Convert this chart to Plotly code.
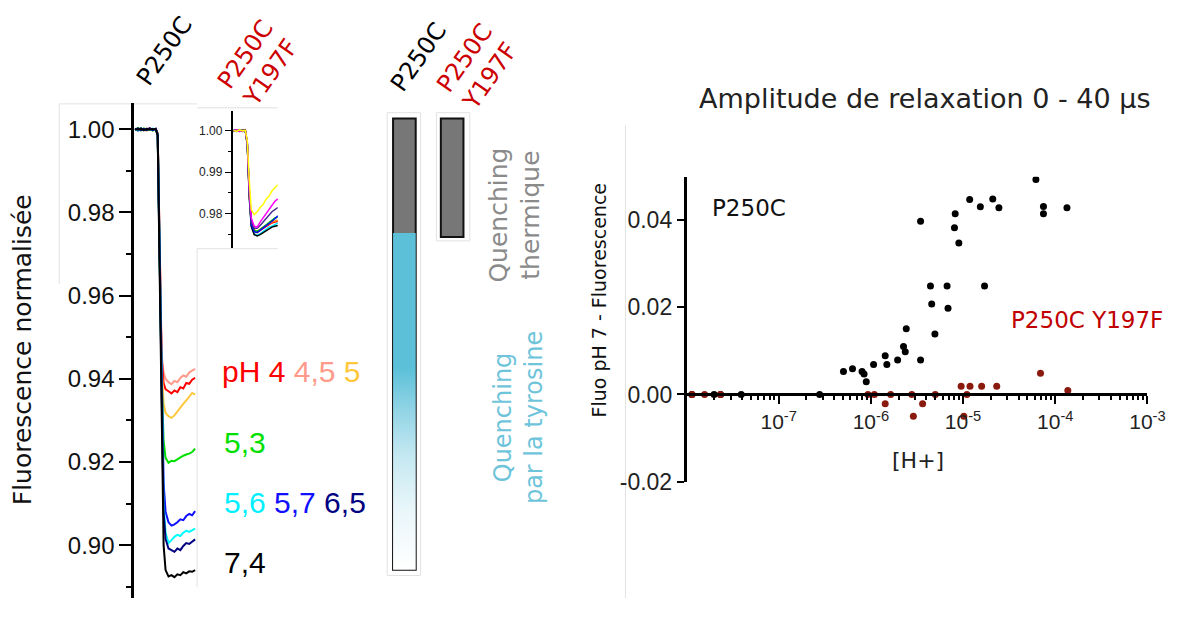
import plotly.graph_objects as go

# figure is 16 px smaller than the window: the page's default 8 px body margin then fills it exactly
W, H = 1184, 603
OFF = 8
def fx(px):
    return (px - OFF) / W
def fy(py):
    return 1 - (py - OFF) / H

ARIAL = "Liberation Sans"
GOTH = "DejaVu Sans"

# ---------------- data: normalised fluorescence traces (P250C) ----------------
t_main = [0, 3, 6, 9, 12, 15, 18, 21, 23, 25, 27, 29, 31, 34, 37, 40, 43, 46, 49, 52, 55, 58, 61]
ph_45 = [1.0002, 0.9998, 1.0001, 0.9997, 1.0002, 0.9999, 1.0001, 1.0000, 0.9990, 0.9750, 0.9460, 0.9415, 0.9400, 0.9392, 0.9387, 0.9395, 0.9392, 0.9402, 0.9408, 0.9405, 0.9415, 0.9420, 0.9424]
ph_4 = [0.9999, 1.0002, 0.9998, 1.0001, 0.9999, 1.0002, 0.9998, 1.0001, 0.9990, 0.9745, 0.9450, 0.9390, 0.9375, 0.9370, 0.9365, 0.9372, 0.9368, 0.9380, 0.9377, 0.9390, 0.9388, 0.9398, 0.9402]
ph_5 = [1.0001, 0.9998, 1.0002, 0.9999, 0.9997, 1.0001, 1.0000, 0.9998, 0.9990, 0.9740, 0.9430, 0.9340, 0.9318, 0.9310, 0.9306, 0.9312, 0.9322, 0.9330, 0.9340, 0.9348, 0.9358, 0.9366, 0.9362]
ph_53 = [0.9998, 1.0003, 0.9997, 1.0002, 0.9998, 1.0001, 0.9997, 1.0001, 0.9988, 0.9720, 0.9400, 0.9250, 0.9210, 0.9198, 0.9203, 0.9202, 0.9207, 0.9210, 0.9215, 0.9218, 0.9220, 0.9224, 0.9232]
ph_57 = [1.0001, 0.9997, 1.0002, 0.9998, 1.0000, 1.0002, 0.9998, 1.0001, 0.9988, 0.9705, 0.9350, 0.9150, 0.9080, 0.9055, 0.9047, 0.9050, 0.9055, 0.9062, 0.9060, 0.9070, 0.9075, 0.9072, 0.9082]
ph_56 = [1.0000, 0.9998, 1.0002, 0.9998, 1.0001, 0.9999, 1.0002, 0.9999, 0.9988, 0.9700, 0.9330, 0.9100, 0.9030, 0.9005, 0.9012, 0.9020, 0.9025, 0.9022, 0.9030, 0.9035, 0.9032, 0.9036, 0.9040]
ph_65 = [0.9999, 1.0002, 0.9998, 1.0001, 0.9998, 1.0002, 0.9999, 1.0001, 0.9987, 0.9700, 0.9320, 0.9080, 0.9015, 0.8992, 0.8988, 0.8984, 0.8992, 0.8988, 0.8998, 0.9005, 0.9003, 0.9008, 0.9014]
ph_74 = [1.0001, 0.9999, 1.0002, 0.9998, 1.0001, 0.9999, 1.0001, 1.0000, 0.9985, 0.9650, 0.9250, 0.9000, 0.8940, 0.8925, 0.8928, 0.8923, 0.8930, 0.8928, 0.8935, 0.8932, 0.8937, 0.8936, 0.8940]
main_traces = [
    ("4,5", ph_45, "#ff9a8a"), ("4", ph_4, "#ff0000"), ("5", ph_5, "#ffc83c"),
    ("5,3", ph_53, "#00e000"), ("5,7", ph_57, "#1010ff"), ("5,6", ph_56, "#00ffff"),
    ("6,5", ph_65, "#000080"), ("7,4", ph_74, "#000000"),
]

# ---------------- data: inset traces (P250C Y197F) ----------------
t_inset = [0, 3, 6, 9, 12, 14, 16, 18, 21, 24, 27, 30, 33, 36, 39, 42, 45]
in_cyan = [1.0001, 0.9998, 1.0002, 0.9999, 0.9998, 0.9965, 0.9840, 0.9770, 0.9752, 0.9748, 0.9752, 0.9758, 0.9762, 0.9768, 0.9770, 0.9775, 0.9778]
in_black = [0.9999, 1.0002, 0.9999, 1.0001, 0.9999, 0.9965, 0.9840, 0.9770, 0.9750, 0.9747, 0.9750, 0.9755, 0.9760, 0.9765, 0.9768, 0.9770, 0.9772]
in_red = [0.9999, 1.0001, 0.9998, 1.0002, 1.0000, 0.9967, 0.9845, 0.9778, 0.9760, 0.9755, 0.9760, 0.9765, 0.9770, 0.9775, 0.9778, 0.9780, 0.9782]
in_orange = [1.0001, 0.9999, 1.0000, 0.9998, 1.0002, 0.9968, 0.9848, 0.9780, 0.9762, 0.9757, 0.9763, 0.9768, 0.9772, 0.9776, 0.9780, 0.9783, 0.9785]
in_green = [0.9998, 1.0001, 0.9999, 1.0002, 0.9999, 0.9968, 0.9850, 0.9780, 0.9760, 0.9758, 0.9762, 0.9768, 0.9772, 0.9778, 0.9785, 0.9790, 0.9792]
in_blue = [1.0002, 0.9999, 1.0001, 0.9998, 1.0000, 0.9970, 0.9850, 0.9775, 0.9757, 0.9755, 0.9760, 0.9765, 0.9770, 0.9776, 0.9782, 0.9788, 0.9795]
in_purple = [1.0000, 0.9998, 1.0002, 0.9999, 1.0001, 0.9970, 0.9855, 0.9780, 0.9765, 0.9765, 0.9772, 0.9780, 0.9790, 0.9798, 0.9805, 0.9810, 0.9815]
in_magenta = [0.9999, 1.0002, 0.9998, 1.0001, 0.9999, 0.9972, 0.9860, 0.9790, 0.9770, 0.9768, 0.9780, 0.9790, 0.9800, 0.9812, 0.9820, 0.9830, 0.9836]
in_yellow = [1.0001, 0.9998, 1.0002, 0.9999, 1.0000, 0.9975, 0.9880, 0.9810, 0.9798, 0.9805, 0.9815, 0.9822, 0.9835, 0.9842, 0.9855, 0.9862, 0.9870]
inset_traces = [
    (in_cyan, "#00e8ff"), (in_black, "#000000"), (in_red, "#ff0000"), (in_orange, "#ff8c00"),
    (in_green, "#00c000"), (in_blue, "#0000ff"), (in_purple, "#4b2a90"),
    (in_magenta, "#ff00ff"), (in_yellow, "#ffff00"),
]

# ---------------- data: quenching bars (fluorescence drop) ----------------
bar_names = ["P250C", "P250C Y197F"]
quench_thermal = [0.0275, 0.0285]
quench_tyrosine = [0.0810, 0.0]

# ---------------- data: relaxation amplitude vs [H+] ----------------
h_p250c = [3.46e-6, 8.22e-6, 8.07e-6, 9.0e-6, 1.18e-5, 1.54e-5, 2.10e-5, 2.45e-5, 6.17e-5, 7.45e-5, 7.45e-5, 1.34e-4,
           4.43e-6, 6.71e-6, 1.71e-5, 4.57e-6, 6.87e-6, 2.42e-6, 4.95e-6, 2.26e-6, 2.36e-6, 1.43e-6, 1.49e-6, 1.95e-6,
           3.46e-6, 1.07e-6, 5.04e-7, 6.32e-7, 8.02e-7, 8.43e-7, 8.91e-7,
           1.14e-8, 1.99e-8, 2.34e-8, 3.92e-8, 2.78e-7]
a_p250c = [0.0398, 0.0415, 0.0383, 0.0348, 0.0448, 0.0431, 0.0449, 0.0429, 0.0494, 0.0432, 0.0415, 0.0429,
           0.0249, 0.0249, 0.0249, 0.0208, 0.0198, 0.0151, 0.0139, 0.0110, 0.0098, 0.0089, 0.0069, 0.0079,
           0.0079, 0.0069, 0.0053, 0.0059, 0.0053, 0.0047, 0.0029,
           0.0, 0.0, 0.0, 0.0, 0.0]
h_y197f = [1.15e-8, 1.57e-8, 2.34e-8, 9.29e-7, 1.09e-6, 1.43e-6, 1.64e-6, 2.78e-6, 2.89e-6, 3.64e-6, 5.0e-6,
           9.53e-6, 1.02e-5, 1.10e-5, 1.19e-5, 1.59e-5, 2.32e-5, 6.92e-5, 1.37e-4]
a_y197f = [0.0, 0.0, 0.0, 0.0, 0.0, -0.0021, 0.0, 0.0, -0.0050, -0.0021, 0.0,
           0.0019, -0.0050, 0.0, 0.0019, 0.0019, 0.0019, 0.0049, 0.0009]

x_major = [1e-7, 1e-6, 1e-5, 1e-4, 1e-3]
x_major_text = ["10<sup>-7</sup>", "10<sup>-6</sup>", "10<sup>-5</sup>", "10<sup>-4</sup>", "10<sup>-3</sup>"]
y_right_ticks = [-0.02, 0.0, 0.02, 0.04]
y_right_text = ["-0.02", "0.00", "0.02", "0.04"]

fig = go.Figure()

# main traces
for name, vals, col in main_traces:
    fig.add_trace(go.Scatter(x=t_main, y=vals, mode="lines", line=dict(color=col, width=2),
                             xaxis="x", yaxis="y", hoverinfo="skip", showlegend=False))
# inset traces
for vals, col in inset_traces:
    fig.add_trace(go.Scatter(x=t_inset, y=vals, mode="lines", line=dict(color=col, width=1.5),
                             xaxis="x2", yaxis="y2", hoverinfo="skip", showlegend=False))

# bars
bar_x = [0, 1]
bw = 0.474
fig.add_trace(go.Bar(x=bar_x, y=quench_thermal, base=0, width=bw, marker=dict(color="#777777", line=dict(width=0)),
                     xaxis="x3", yaxis="y3", hoverinfo="skip", showlegend=False))
for i, (th, ty) in enumerate(zip(quench_thermal, quench_tyrosine)):
    if ty > 0:
        xs = [bar_x[i] - bw / 2, bar_x[i] + bw / 2, bar_x[i] + bw / 2, bar_x[i] - bw / 2, bar_x[i] - bw / 2]
        ys = [th, th, th + ty, th + ty, th]
        fig.add_trace(go.Scatter(x=xs, y=ys, mode="lines", line=dict(width=0), fill="toself",
                                 fillgradient=dict(type="vertical", colorscale=[
                                     [0, "#ffffff"], [0.18, "#e8f6fa"], [0.34, "#c4e8f1"],
                                     [0.48, "#8fd3e5"], [0.60, "#5bc0d8"], [1, "#5bc0d8"]]),
                                 xaxis="x3", yaxis="y3", hoverinfo="skip", showlegend=False))
totals = [a + b for a, b in zip(quench_thermal, quench_tyrosine)]
fig.add_trace(go.Bar(x=bar_x, y=totals, base=0, width=bw,
                     marker=dict(color="rgba(0,0,0,0)", line=dict(color="#111111", width=2)),
                     xaxis="x3", yaxis="y3", hoverinfo="skip", showlegend=False))

# scatter
fig.add_trace(go.Scatter(x=h_p250c, y=a_p250c, mode="markers", marker=dict(color="#000000", size=7),
                         xaxis="x4", yaxis="y4", hoverinfo="skip", showlegend=False))
fig.add_trace(go.Scatter(x=h_y197f, y=a_y197f, mode="markers", marker=dict(color="#8b1a0e", size=7),
                         xaxis="x4", yaxis="y4", hoverinfo="skip", showlegend=False))

# minor ticks for log axis
minor_vals = [k * 10.0 ** e for e in range(-8, -3) for k in range(2, 10)]

fig.update_layout(
    width=W, height=H, margin=dict(l=0, r=0, t=0, b=0),
    paper_bgcolor="white", plot_bgcolor="rgba(0,0,0,0)",
    barmode="overlay", showlegend=False,
    xaxis=dict(domain=[fx(136), fx(200)], range=[-1, 63], visible=False),
    yaxis=dict(domain=[0, fy(105)], range=[1 - (611 - 132) / 4250.0, 1.00635], anchor="x",
               showline=True, linecolor="#000", linewidth=2.5, showgrid=False, zeroline=False,
               ticks="outside", ticklen=12, tickwidth=2, tickcolor="#000",
               tick0=0.90, dtick=0.02, tickformat=".2f",
               tickfont=dict(family=ARIAL, size=24, color="#111"),
               minor=dict(dtick=0.01, tick0=0.90, ticks="outside", ticklen=5, tickwidth=2, tickcolor="#000")),
    xaxis2=dict(domain=[fx(236), fx(282)], range=[-1, 45], visible=False),
    yaxis2=dict(domain=[fy(253), fy(113)], range=[0.97184, 1.00478], anchor="x2",
                showline=True, linecolor="#000", linewidth=1.5, showgrid=False, zeroline=False,
                ticks="outside", ticklen=6, tickwidth=1.2, tickcolor="#000",
                tick0=0.98, dtick=0.01, tickformat=".2f",
                tickfont=dict(family=ARIAL, size=12, color="#222"),
                minor=dict(dtick=0.005, tick0=0.98, ticks="outside", ticklen=3, tickwidth=1, tickcolor="#000")),
    xaxis3=dict(domain=[fx(380), fx(500)], range=[-0.629, 1.845], visible=False),
    yaxis3=dict(domain=[0, 1], range=[(611 - 121) / 4250.0, (8 - 121) / 4250.0], visible=False, anchor="x3"),
    xaxis4=dict(domain=[fx(697), fx(1165)], type="log", range=[-8, -3], anchor="free", position=fy(403),
                showline=True, linecolor="#000", linewidth=2.5, showgrid=False, zeroline=False,
                tickmode="array", tickvals=x_major, ticktext=x_major_text,
                ticks="outside", ticklen=8, tickwidth=2, tickcolor="#000",
                tickfont=dict(family=ARIAL, size=21, color="#222"),
                minor=dict(tickmode="array", tickvals=minor_vals, ticks="outside", ticklen=4,
                           tickwidth=1.5, tickcolor="#000", showgrid=False)),
    yaxis4=dict(domain=[fy(492), fy(180.5)], range=[-0.02, 0.05], anchor="x4",
                showline=True, linecolor="#000", linewidth=2.5, showgrid=False, zeroline=False,
                tickmode="array", tickvals=y_right_ticks, ticktext=y_right_text,
                ticks="outside", ticklen=7, tickwidth=2, tickcolor="#000",
                tickfont=dict(family=ARIAL, size=23, color="#222")),
)

def ann(text, px, py, size, color, family=GOTH, angle=0, xanchor="center", yanchor="middle", align="center"):
    fig.add_annotation(text=text, x=fx(px), y=fy(py), xref="paper", yref="paper", showarrow=False,
                       font=dict(family=family, size=size, color=color), textangle=angle,
                       xanchor=xanchor, yanchor=yanchor, align=align)

# left panel labels
ann("Fluorescence normalisée", 23, 357, 25, "#111", angle=-90)
ann("pH 4 <span style='color:#ff9a8a'>4,5</span> <span style='color:#ffc83c'>5</span>", 223, 380, 30, "#ff0000",
    family=ARIAL, xanchor="left")
ann("5,3", 225, 452, 30, "#00e000", family=ARIAL, xanchor="left")
ann("5,6 <span style='color:#1010ff'>5,7</span> <span style='color:#000080'>6,5</span>", 225, 513, 30, "#00f0ff",
    family=ARIAL, xanchor="left")
ann("7,4", 225, 575, 30, "#000000", family=ARIAL, xanchor="left")

# rotated headers
ann("P250C", 167, 52, 24, "#000", angle=-55)
ann("P250C<br>Y197F", 262, 65, 24, "#cc0000", angle=-55)
ann("P250C", 425, 58, 24, "#000", angle=-55)
ann("P250C<br>Y197F", 485, 68, 24, "#cc0000", angle=-55)

# bar annotations
ann("Quenching<br>thermique", 523, 220, 25, "#8a8a8a", angle=-90)
ann("Quenching<br>par la tyrosine", 527, 427, 24, "#6ec4da", angle=-90)

# right panel labels
ann("Amplitude de relaxation 0 - 40 µs", 708, 101, 27, "#222", xanchor="left")
ann("Fluo pH 7 - Fluorescence", 608, 306, 19, "#111", angle=-90)
ann("P250C", 760, 212, 23, "#111")
ann("P250C Y197F", 1104, 327, 23, "#c00000")
ann("[H+]", 932, 470, 22, "#222")

# faint frame lines
faint = dict(color="#e2e2e2", width=1)
def rect(x0, y0, x1, y1):
    fig.add_shape(type="rect", xref="paper", yref="paper", x0=fx(x0), x1=fx(x1), y0=fy(y0), y1=fy(y1),
                  line=faint, fillcolor="rgba(0,0,0,0)", layer="below")
def line(x0, y0, x1, y1):
    fig.add_shape(type="line", xref="paper", yref="paper", x0=fx(x0), x1=fx(x1), y0=fy(y0), y1=fy(y1),
                  line=faint, layer="below")

rect(393, 115, 427, 588)
rect(443, 115, 477, 246)
line(635, 128, 635, 611)
line(200, 110, 282, 110)
line(200, 254, 282, 254)
line(200, 254, 200, 600)
line(60, 106, 200, 106)
line(60, 106, 60, 290)

fig.write_html("out.html", config={"displayModeBar": False})
